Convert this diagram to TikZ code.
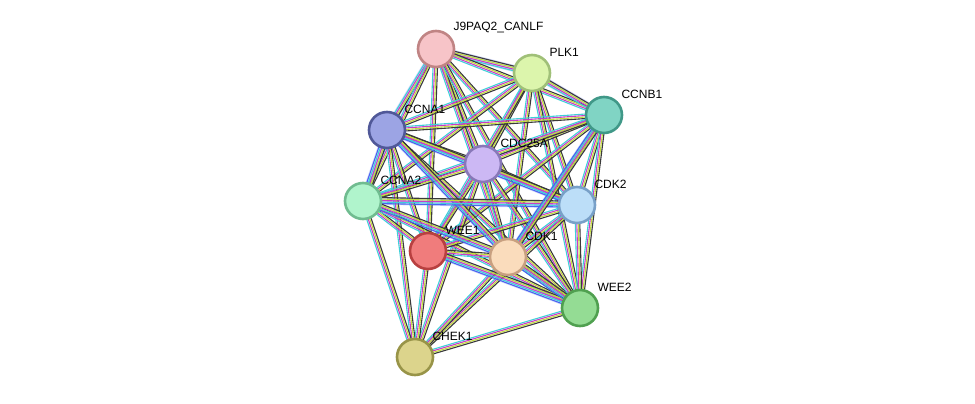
\documentclass[tikz,border=0pt]{standalone}
\usepackage{fontspec}
\setmainfont{Liberation Sans}
\usetikzlibrary{calc}
\definecolor{cy}{HTML}{3FD0D8}
\definecolor{mg}{HTML}{C83CC8}
\definecolor{yg}{HTML}{C4DC3C}
\definecolor{bk}{HTML}{3A3A3A}
\definecolor{bl}{HTML}{4A64F0}
\tikzset{
  prot/.style={circle, minimum size=36pt, line width=2.6pt, inner sep=0pt},
  lbl/.style={anchor=west, font=\fontsize{12}{13}\selectfont},
  ln/.style={line width=1.1pt}
}
\newcommand{\stredge}[3]{%
  \foreach \c [count=\i] in {#3} {
    \draw[ln, \c] ($(#1)!{(\i-2.5)*1.5pt}!90:(#2)$) -- ($(#2)!{(\i-2.5)*1.5pt}!-90:(#1)$);
  }}
\begin{document}
\begin{tikzpicture}[x=1pt, y=-1pt]
\useasboundingbox (0,0) rectangle (975,404);
% protein positions
\coordinate (j9) at (436,49);
\coordinate (plk) at (532,73);
\coordinate (ccnb) at (604,115);
\coordinate (ccna1) at (387,130);
\coordinate (cdc) at (483,164);
\coordinate (ccna2) at (363,201);
\coordinate (cdk2) at (577,205);
\coordinate (wee1) at (428,251);
\coordinate (cdk1) at (508,257);
\coordinate (wee2) at (580,308);
\coordinate (chek) at (415,357);
% halos
\foreach \a/\b in {ccna1/cdk2, ccna1/cdk1, ccna2/cdk1, ccna2/cdk2, j9/plk, j9/ccna1, wee1/wee2, ccnb/cdk1, plk/ccnb, ccna1/ccna2}
  \draw[line width=7pt, bl!25] (\a) -- (\b);
% edges
\foreach \a/\b in {j9/plk, j9/ccnb, j9/ccna1, j9/cdc, j9/ccna2, j9/cdk2, j9/wee1, j9/cdk1, j9/wee2,
  plk/ccnb, plk/ccna1, plk/cdc, plk/ccna2, plk/cdk2, plk/wee1, plk/cdk1, plk/wee2,
  ccnb/ccna1, ccnb/cdc, ccnb/ccna2, ccnb/cdk2, ccnb/wee1, ccnb/cdk1, ccnb/wee2,
  ccna1/cdc, ccna1/wee1, ccna1/chek, ccna1/wee2,
  cdc/ccna2, cdc/cdk2, cdc/wee1, cdc/cdk1, cdc/wee2, cdc/chek,
  ccna2/wee1, ccna2/chek, ccna2/wee2,
  cdk2/wee1, cdk2/cdk1, cdk2/wee2, cdk2/chek,
  wee1/cdk1, wee1/chek, cdk1/wee2, cdk1/chek, wee2/chek}
  \stredge{\a}{\b}{cy,mg,yg,bk};
\foreach \a/\b in {ccna1/ccna2, ccna1/cdk2, ccna1/cdk1, ccna2/cdk2, ccna2/cdk1, wee1/wee2, ccnb/cdk1, cdk1/wee2}
  \stredge{\a}{\b}{bl,cy,mg,yg,bk};
% proteins
\foreach \n/\f/\d in {j9/F7C4C8/C08484, plk/DCF5AC/A0C078, ccnb/80D4C4/409888, ccna1/9CA4E4/505898,
  cdc/CCB8F4/8878B8, ccna2/B0F4CC/70BC90, cdk2/BCDEF8/78A0C8, wee1/F07C7C/B84040,
  cdk1/FADCBC/C8A080, wee2/94DC94/50A050, chek/DCD48C/989448} {
  \definecolor{fc}{HTML}{\f}\definecolor{dc}{HTML}{\d}
  \node[prot, fill=fc, draw=dc] (\n-p) at (\n) {};
}
% labels
\node[lbl] (j9-l) at ($(j9)+(14,-21)$) {J9PAQ2\_CANLF};
\node[lbl] (plk-l) at ($(plk)+(14,-21)$) {PLK1};
\node[lbl] (ccnb-l) at ($(ccnb)+(14,-21)$) {CCNB1};
\node[lbl] (ccna1-l) at ($(ccna1)+(14,-21)$) {CCNA1};
\node[lbl] (cdc-l) at ($(cdc)+(14,-21)$) {CDC25A};
\node[lbl] (ccna2-l) at ($(ccna2)+(14,-21)$) {CCNA2};
\node[lbl] (cdk2-l) at ($(cdk2)+(14,-21)$) {CDK2};
\node[lbl] (wee1-l) at ($(wee1)+(14,-21)$) {WEE1};
\node[lbl] (cdk1-l) at ($(cdk1)+(14,-21)$) {CDK1};
\node[lbl] (wee2-l) at ($(wee2)+(14,-21)$) {WEE2};
\node[lbl] (chek-l) at ($(chek)+(14,-21)$) {CHEK1};
\end{tikzpicture}
\end{document}
